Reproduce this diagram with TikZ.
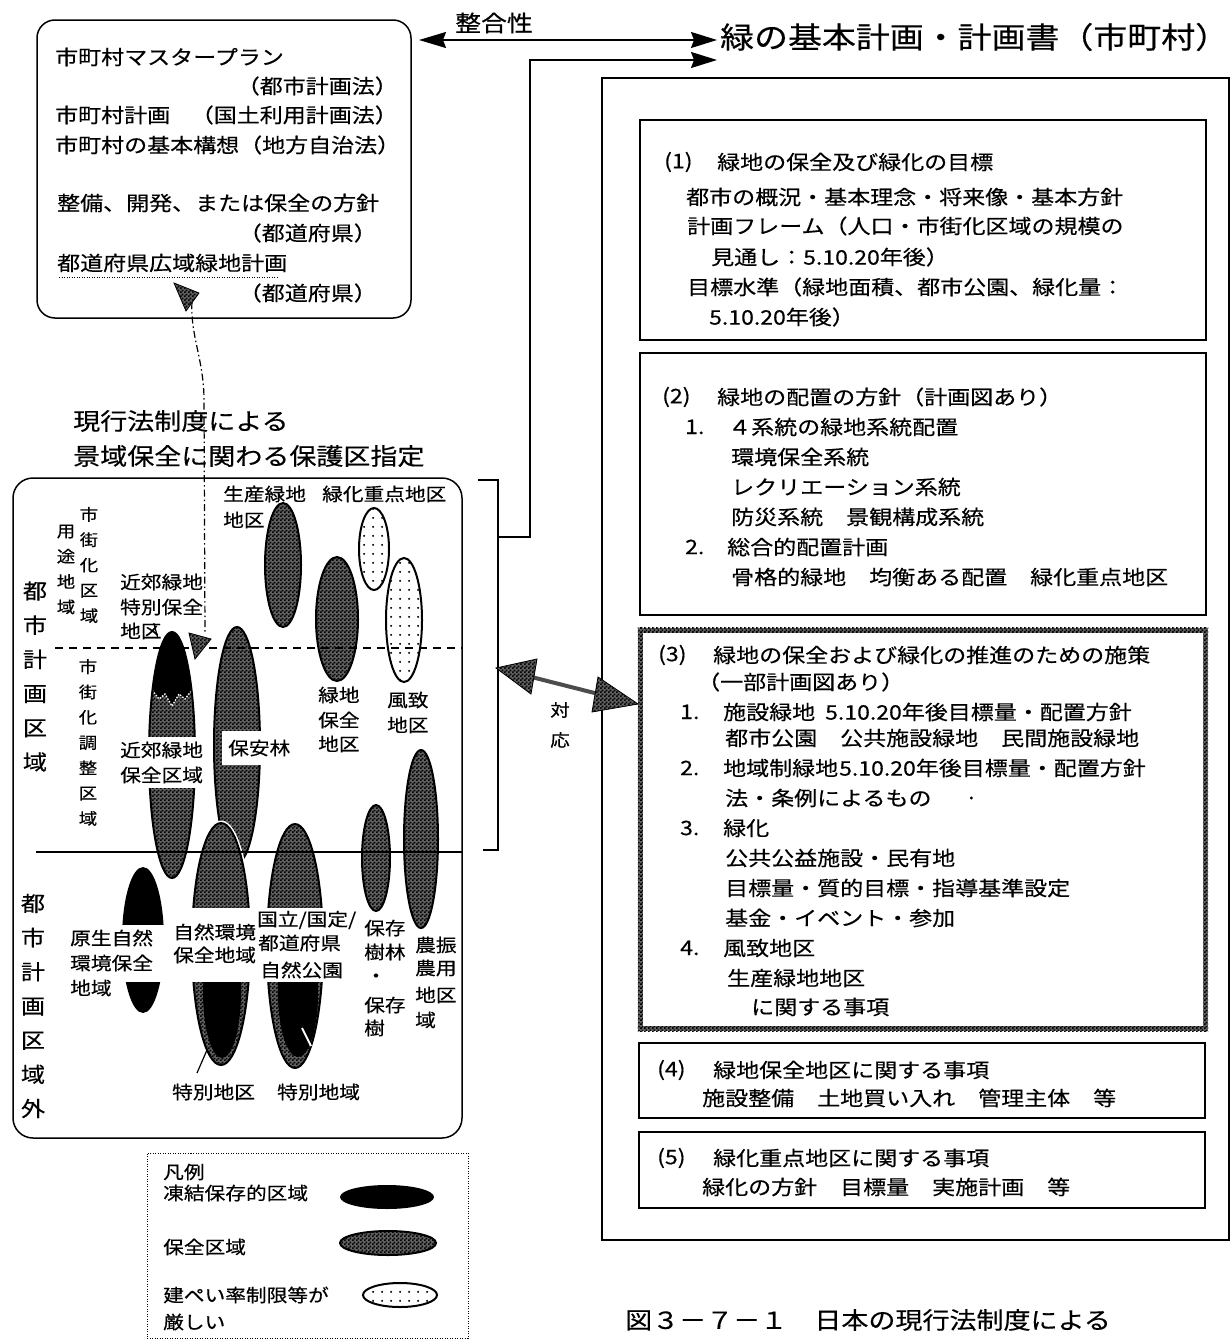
\documentclass[tikz,border=0pt]{standalone}
\usepackage{fontspec}
\newfontfamily\jp[FakeStretch=1.15,FakeBold=0.4]{Noto Sans CJK JP}
\usetikzlibrary{patterns,arrows.meta}
\pgfdeclarepatternformonly{checker}{\pgfqpoint{0pt}{0pt}}{\pgfqpoint{4pt}{4pt}}{\pgfqpoint{4pt}{4pt}}{%
 \pgfpathrectangle{\pgfqpoint{0pt}{0pt}}{\pgfqpoint{2pt}{2pt}}%
 \pgfpathrectangle{\pgfqpoint{2pt}{2pt}}{\pgfqpoint{2pt}{2pt}}%
 \pgfusepath{fill}}
\pgfdeclarepatternformonly{sparsedots}{\pgfqpoint{0pt}{0pt}}{\pgfqpoint{9pt}{9pt}}{\pgfqpoint{9pt}{9pt}}{%
 \pgfpathcircle{\pgfqpoint{4.5pt}{4.5pt}}{1.2pt}\pgfusepath{fill}}
\begin{document}
\begin{tikzpicture}[x=1pt,y=-1pt,
 jt/.style={anchor=west, inner sep=0pt, font=\jp\fontsize{20}{20}\selectfont},
 jtl/.style={anchor=west, inner sep=0pt, font=\jp\fontsize{20}{20}\selectfont},
 lab/.style={anchor=west, inner sep=0pt, font=\jp\fontsize{18}{18}\selectfont},
 vt/.style={inner sep=0pt, align=center, font=\jp\fontsize{16}{25.3}\selectfont},
 vtbig/.style={inner sep=0pt, align=center, font=\jp\fontsize{21}{34.2}\selectfont},
 hatch/.style={preaction={fill=black!62}, pattern=checker, pattern color=black},
 dotf/.style={preaction={fill=white}, pattern=sparsedots, pattern color=black},
 ell/.style={draw=black, line width=2pt},
 frame/.style={draw, line width=1.5pt, inner sep=0pt},
 tip/.style={line width=1.5pt},
]
\useasboundingbox (0,0) rectangle (1231,1341);
\fill[white] (0,0) rectangle (1231,1341);

% ---------- top-left box ----------
\node[frame, rounded corners=18pt, minimum width=374pt, minimum height=298pt] (tlbox) at (224,169) {};
\node[jtl] (a1) at (55,57) {市町村マスタープラン};
\node[jtl, anchor=east] (a2) at (398,86) {（都市計画法）};
\node[jtl] (a3) at (55,115) {市町村計画};
\node[jtl, anchor=east] (a4) at (398,115) {（国土利用計画法）};
\node[jtl] (a5) at (55,145) {市町村の基本構想（地方自治法）};
\node[jtl] (a6) at (57,203) {整備、開発、または保全の方針};
\node[jtl, anchor=east] (a7) at (377,233) {（都道府県）};
\node[jtl] (a8) at (57,263) {都道府県広域緑地計画};
\draw[line width=1pt, dash pattern=on 1pt off 1.5pt] (a8.south west) ++(2,5) -- ++(218,0);
\node[jtl, anchor=east] (a9) at (377,293) {（都道府県）};

% ---------- consistency arrow and title ----------
\node[anchor=west, inner sep=0pt, font=\jp\fontsize{22.5}{22}\selectfont] (seigo) at (455,23) {整合性};
\node[anchor=west, inner sep=0pt, font=\jp\fontsize{29.5}{30}\selectfont] (title) at (720,37) {緑の基本計画・計画書（市町村）};
\coordinate (seigoL) at (419,40);
\coordinate (seigoR) at (717,40);
\draw[tip, {Stealth[length=27pt,width=16pt,inset=3pt]}-{Stealth[length=26pt,width=16pt,inset=3pt]}] (seigoL) -- (seigoR);

% ---------- right big box ----------
\node[draw, line width=2.2pt, inner sep=0pt, minimum width=627pt, minimum height=1162pt] (bigbox) at (915.5,659) {};
\node[frame, minimum width=566pt, minimum height=220pt] (box1) at (923,230) {};
\node[frame, minimum width=566pt, minimum height=262pt] (box2) at (923,484) {};
\node[inner sep=0pt, minimum width=570pt, minimum height=403pt] (box3) at (923,829.5) {};
\path[hatch] (box3.north west) rectangle ([yshift=-5pt]box3.north east);
\path[hatch] ([yshift=5pt]box3.south west) rectangle (box3.south east);
\path[hatch] (box3.north west) rectangle ([xshift=5pt]box3.south west);
\path[hatch] ([xshift=-5pt]box3.north east) rectangle (box3.south east);
\node[frame, minimum width=566pt, minimum height=75pt] (box4) at (922,1080.5) {};
\node[frame, minimum width=566pt, minimum height=76pt] (box5) at (922,1170) {};

% box 1 text
\node[jt] (b1a) at (664,162) {(1)};
\node[jt] (b1b) at (717,162) {緑地の保全及び緑化の目標};
\node[jt] (b1c) at (686,197) {都市の概況・基本理念・将来像・基本方針};
\node[jt] (b1d) at (687,226) {計画フレーム（人口・市街化区域の規模の};
\node[jt] (b1e) at (711,257) {見通し：5.10.20年後）};
\node[jt] (b1f) at (687,287) {目標水準（緑地面積、都市公園、緑化量：};
\node[jt] (b1g) at (709,317) {5.10.20年後）};

% box 2 text
\node[jt] (b2a) at (662,397) {(2)};
\node[jt] (b2b) at (717,397) {緑地の配置の方針（計画図あり）};
\node[jt] (b2c) at (685,427) {1.};
\node[jt] (b2d) at (728,427) {４系統の緑地系統配置};
\node[jt] (b2e) at (731,457) {環境保全系統};
\node[jt] (b2f) at (731,487) {レクリエーション系統};
\node[jt] (b2g) at (731,517) {防災系統　景観構成系統};
\node[jt] (b2h) at (685,547) {2.};
\node[jt] (b2i) at (727,547) {総合的配置計画};
\node[jt] (b2j) at (731,577) {骨格的緑地　均衡ある配置　緑化重点地区};

% box 3 text
\node[jt] (b3a) at (658,655) {(3)};
\node[jt] (b3b) at (713,655) {緑地の保全および緑化の推進のための施策};
\node[jt] (b3c) at (697,682) {（一部計画図あり）};
\node[jt] (b3d) at (680,712) {1.};
\node[jt] (b3e) at (723,712) {施設緑地};
\node[jt] (b3f) at (825,712) {5.10.20年後目標量・配置方針};
\node[jt] (b3g) at (725,738) {都市公園　公共施設緑地　民間施設緑地};
\node[jt] (b3h) at (680,768) {2.};
\node[jt] (b3i) at (723,768) {地域制緑地};
\node[jt] (b3j) at (839,768) {5.10.20年後目標量・配置方針};
\node[jt] (b3k) at (725,798) {法・条例によるもの};
\node[jt] (b3l) at (968,798) {.};
\node[jt] (b3m) at (680,828) {3.};
\node[jt] (b3n) at (723,828) {緑化};
\node[jt] (b3o) at (725,858) {公共公益施設・民有地};
\node[jt] (b3p) at (725,888) {目標量・質的目標・指導基準設定};
\node[jt] (b3q) at (725,918) {基金・イベント・参加};
\node[jt] (b3r) at (680,948) {4.};
\node[jt] (b3s) at (723,948) {風致地区};
\node[jt] (b3t) at (727,978) {生産緑地地区};
\node[jt] (b3u) at (751,1007) {に関する事項};

% box 4, 5 text
\node[jt] (b4a) at (657,1070) {(4)};
\node[jt] (b4b) at (713,1070) {緑地保全地区に関する事項};
\node[jt] (b4c) at (702,1098) {施設整備　土地買い入れ　管理主体　等};
\node[jt] (b5a) at (657,1158) {(5)};
\node[jt] (b5b) at (713,1158) {緑化重点地区に関する事項};
\node[jt] (b5c) at (702,1187) {緑化の方針　目標量　実施計画　等};

% caption
\node[anchor=west, inner sep=0pt, font=\jp\fontsize{23.5}{24}\selectfont] (cap) at (625,1320) {図３－７－１　日本の現行法制度による};

% ---------- left panel ----------
\node[anchor=west, inner sep=0pt, font=\jp\fontsize{23.5}{24}\selectfont] (h1) at (73,421) {現行法制度による};
\node[anchor=west, inner sep=0pt, font=\jp\fontsize{23.5}{24}\selectfont] (h2) at (73,456) {景域保全に関わる保護区指定};
\node[frame, rounded corners=20pt, minimum width=449pt, minimum height=660pt] (leftbox) at (237.5,808) {};

% ellipses: upper zone
\path[hatch, ell] (283,565) ellipse [x radius=18, y radius=62];
\path[dotf, ell] (374,549) ellipse [x radius=15, y radius=41];
\path[hatch, ell] (337,619) ellipse [x radius=21, y radius=62];
\path[dotf, ell] (404,620) ellipse [x radius=18, y radius=62];

% kinkou ryokuchi (black top + hatched)
\path[hatch] (172,755) ellipse [x radius=23, y radius=123];
\begin{scope}
 \clip (172,755) ellipse [x radius=23, y radius=123];
 \fill[black] (140,620) -- (205,620) -- (205,686) -- (192,690) -- (185,699) -- (179,694) -- (172,706) -- (165,694) -- (159,699) -- (152,690) -- (140,686) -- cycle;
 \draw[white, line width=1.3pt, dash pattern=on 1.5pt off 1.5pt] (205,686) -- (192,690) -- (185,699) -- (179,694) -- (172,706) -- (165,694) -- (159,699) -- (152,690) -- (140,686);
\end{scope}
\draw[ell] (172,755) ellipse [x radius=23, y radius=123];

% hoan-rin
\path[hatch, ell] (237,745) ellipse [x radius=23, y radius=118];
% shizen kankyo
\draw[white, line width=5pt] (221,944) ellipse [x radius=29, y radius=121];
\path[hatch, ell] (221,944) ellipse [x radius=29, y radius=121];
\fill[black] (222,992) ellipse [x radius=19, y radius=66];
% kokuritsu
\path[hatch, ell] (295,946) ellipse [x radius=28, y radius=122];
\fill[black] (298,993) ellipse [x radius=20, y radius=64];
\draw[white, line width=2pt] (302,1028) -- (311,1046);
% gensei
\fill[black] (143,940) ellipse [x radius=21, y radius=73];
% hozon, nouson
\path[hatch, ell] (376,858) ellipse [x radius=14, y radius=53];
\path[hatch, ell] (421,839) ellipse [x radius=17, y radius=89];

% white label grounds
\fill[white] (118,737) rectangle (202,788);
\fill[white] (222,731) rectangle (290,765);
\fill[white] (168,908) rectangle (256,982);
\fill[white] (256,908) rectangle (340,982);
\fill[white] (68,925) rectangle (167,982);

% zone lines
\draw[line width=1.5pt, dash pattern=on 8pt off 6pt] (55,648) -- (leftbox.east |- 0,648);
\draw[line width=1.5pt] (36,852) -- (leftbox.east |- 0,852);

% labels
\node[lab] (l1) at (223,494) {生産緑地};
\node[lab] (l2) at (223,520) {地区};
\node[lab] (l3) at (322,494) {緑化重点地区};
\node[lab] (l4) at (120,582) {近郊緑地};
\node[lab] (l5) at (120,607) {特別保全};
\node[lab] (l6) at (120,631) {地区};
\node[lab] (l7) at (318,695) {緑地};
\node[lab] (l8) at (318,720) {保全};
\node[lab] (l9) at (318,744) {地区};
\node[lab] (l10) at (387,700) {風致};
\node[lab] (l11) at (387,725) {地区};
\node[lab] (l12) at (120,750) {近郊緑地};
\node[lab] (l13) at (120,775) {保全区域};
\node[lab] (l14) at (228,748) {保安林};
\node[lab] (l15) at (173,932) {自然環境};
\node[lab] (l16) at (173,955) {保全地域};
\node[lab] (l17) at (257,920) {国立/国定/};
\node[lab] (l18) at (258,943) {都道府県};
\node[lab] (l19) at (260,970) {自然公園};
\node[lab] (l20) at (364,928) {保存};
\node[lab] (l21) at (364,952) {樹林};
\node[lab, anchor=center] (l22) at (376,978) {・};
\node[lab] (l23) at (364,1005) {保存};
\node[lab] (l24) at (364,1028) {樹};
\node[lab] (l25) at (415,945) {農振};
\node[lab] (l26) at (415,968) {農用};
\node[lab] (l27) at (415,995) {地区};
\node[lab] (l28) at (415,1020) {域};
\node[lab] (l29) at (70,938) {原生自然};
\node[lab] (l30) at (70,963) {環境保全};
\node[lab] (l31) at (70,988) {地域};
\node[lab] (l32) at (172,1092) {特別地区};
\node[lab] (l33) at (277,1092) {特別地域};

% vertical labels
\node[vt] (v1) at (66,569.5) {用\\途\\地\\域};
\node[vt] (v2) at (89,565) {市\\街\\化\\区\\域};
\node[vt] (v3) at (88,742.5) {市\\街\\化\\調\\整\\区\\域};
\node[vtbig] (v4) at (35,676.5) {都\\市\\計\\画\\区\\域};
\node[vtbig] (v5) at (33,1006) {都\\市\\計\\画\\区\\域\\外};

% leaders
\draw[line width=1.2pt] (l6.east) ++(-8,-8) -- ++(4,15);
\draw[line width=1.2pt] (207,1050) -- (197,1073);

% bracket and link to title
\draw[line width=1.6pt] (478,480) -- (498,480) -- (498,850) -- (483,850);
\coordinate (brk) at (498,537);
\coordinate (ttl2) at (717,60);
\draw[tip, -{Stealth[length=26pt,width=16pt,inset=3pt]}] (brk) -- (530,537) |- (ttl2);

% correspondence arrow
\coordinate (taiL) at (496,668);
\coordinate (taiR) at (638,704);
\draw[line width=4pt, draw=black!70, shorten <=30pt, shorten >=30pt] (taiL) -- (taiR);
\path[hatch, draw=black, line width=0.8pt] (taiL) -- (537,659) -- (531,694) -- cycle;
\path[hatch, draw=black, line width=0.8pt] (taiR) -- (598,677) -- (592,712) -- cycle;
\node[inner sep=0pt, font=\jp\fontsize{17}{17}\selectfont] (tai1) at (560,710) {対};
\node[inner sep=0pt, font=\jp\fontsize{17}{17}\selectfont] (tai2) at (560,740) {応};

% dash-dot link between top-left box and kinkou area
\coordinate (ddTop) at (174,283);
\coordinate (ddBot) at (195,659);
\draw[line width=1.2pt, dash pattern=on 7pt off 3pt on 1.5pt off 3pt] (192,302) .. controls (190,335) and (204,360) .. (204,400) -- (205,634);
\path[hatch, draw=black, line width=0.8pt] (ddTop) -- (186,311) -- (199,293) -- cycle;
\path[hatch, draw=black, line width=0.8pt] (ddBot) -- (189,633) -- (211,639) -- cycle;

% ---------- legend ----------
\node[draw, line width=1pt, dash pattern=on 1pt off 1.5pt, inner sep=0pt, minimum width=321pt, minimum height=185pt] (legend) at (307.5,1245.5) {};
\node[lab] (g1) at (163,1172) {凡例};
\node[lab] (g2) at (163,1193) {凍結保存的区域};
\node[lab] (g3) at (163,1247) {保全区域};
\node[lab] (g4) at (163,1295) {建ぺい率制限等が};
\node[lab] (g5) at (163,1322) {厳しい};
\fill[black] (387,1197) ellipse [x radius=47, y radius=12];
\path[hatch, ell] (388,1243) ellipse [x radius=48, y radius=12];
\path[dotf, ell] (400,1295) ellipse [x radius=37, y radius=12];
\end{tikzpicture}
\end{document}
